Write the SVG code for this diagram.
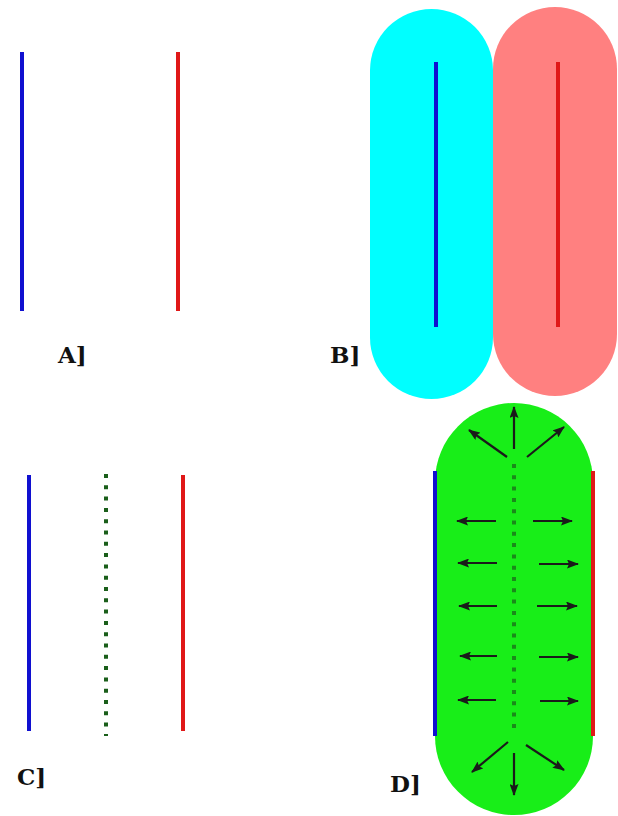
<svg xmlns="http://www.w3.org/2000/svg" width="618" height="816" viewBox="0 0 618 816">
<defs>
<style>
.blue{stroke:#1010d0;stroke-width:4;fill:none}
.red{stroke:#e01818;stroke-width:4;fill:none}
.dots{stroke:#1a5e1a;stroke-width:4;stroke-dasharray:4 7.3;fill:none}
.arr{stroke:#1a1a1a;stroke-width:2.2;fill:none;marker-end:url(#ah)}
.lbl{font-family:"DejaVu Serif","Liberation Serif",serif;font-weight:bold;font-size:23px;fill:#111}
</style>
<marker id="ah" viewBox="0 0 12 9" refX="11" refY="4.5" markerWidth="12" markerHeight="9" markerUnits="userSpaceOnUse" orient="auto">
<path d="M0,0 L12,4.5 L0,9 L2,4.5 Z" fill="#1a1a1a"/>
</marker>
</defs>
<rect width="618" height="816" fill="#fff"/>

<g id="panelA">
<line class="blue" x1="22" y1="52" x2="22" y2="311"/>
<line class="red" x1="178" y1="52" x2="178" y2="311"/>
<text class="lbl" x="58" y="363">A]</text>
</g>

<g id="panelB">
<rect x="370" y="9" width="123" height="390" rx="61.5" ry="61.5" fill="#00ffff"/>
<rect x="493" y="7" width="124" height="389" rx="62" ry="62" fill="#ff8080"/>
<line class="blue" x1="436" y1="62" x2="436" y2="327"/>
<line class="red" x1="558" y1="62" x2="558" y2="327"/>
<text class="lbl" x="330" y="363">B]</text>
</g>

<g id="panelC">
<line class="blue" x1="29" y1="475" x2="29" y2="731"/>
<line class="dots" x1="106" y1="474" x2="106" y2="736"/>
<line class="red" x1="183" y1="475" x2="183" y2="731"/>
<text class="lbl" x="17" y="785">C]</text>
</g>

<g id="panelD">
<rect x="435" y="403" width="158" height="412" rx="79" ry="79" fill="#18ee18"/>
<line class="blue" x1="435" y1="471" x2="435" y2="736"/>
<line class="red" x1="593" y1="471" x2="593" y2="736"/>
<line class="dots" x1="514" y1="464" x2="514" y2="733" style="stroke:#1a8a1a"/>
<text class="lbl" x="390" y="792">D]</text>
</g>

<g id="connectors">
<line class="arr" x1="514" y1="449" x2="514" y2="407"/>
<line class="arr" x1="507" y1="457" x2="469" y2="430"/>
<line class="arr" x1="527" y1="457" x2="564" y2="427"/>
<line class="arr" x1="496" y1="521" x2="457" y2="521"/>
<line class="arr" x1="533" y1="521" x2="572" y2="521"/>
<line class="arr" x1="497" y1="563" x2="458" y2="563"/>
<line class="arr" x1="539" y1="564" x2="578" y2="564"/>
<line class="arr" x1="497" y1="606" x2="459" y2="606"/>
<line class="arr" x1="537" y1="606" x2="577" y2="606"/>
<line class="arr" x1="497" y1="656" x2="460" y2="656"/>
<line class="arr" x1="539" y1="657" x2="578" y2="657"/>
<line class="arr" x1="496" y1="700" x2="458" y2="700"/>
<line class="arr" x1="540" y1="701" x2="578" y2="701"/>
<line class="arr" x1="514" y1="753" x2="514" y2="795"/>
<line class="arr" x1="508" y1="742" x2="472" y2="772"/>
<line class="arr" x1="526" y1="745" x2="564" y2="770"/>
</g>
</svg>
